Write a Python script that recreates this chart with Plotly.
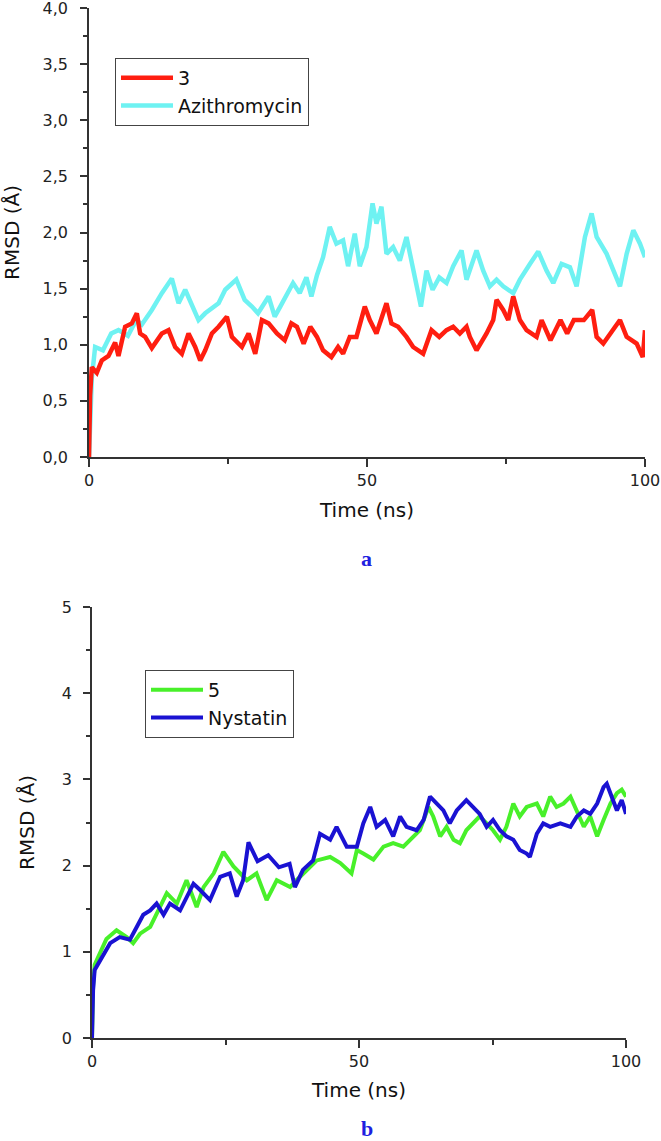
import plotly.graph_objects as go

# ---------- Panel a data ----------
time_3 = [0, 0.2, 0.5, 1.4, 2.3, 3.5, 4.7, 5.3, 6.5, 7.7,
          8.6, 9.2, 10.1, 11.3, 13.1, 14.3, 15.5, 16.7, 17.9, 19.1,
          20.0, 20.9, 22.1, 23.3, 24.8, 25.7, 27.5, 28.7, 29.9, 31.1,
          32.3, 33.8, 35.2, 36.4, 37.4, 38.6, 39.8, 41.0, 42.1, 43.6,
          44.8, 45.7, 46.9, 48.1, 49.6, 50.5, 51.7, 52.6, 53.5, 54.4,
          55.6, 57.1, 58.3, 60.1, 61.6, 63.0, 64.3, 65.5, 66.7, 67.9,
          68.5, 69.7, 71.5, 72.7, 73.3, 74.5, 75.4, 76.3, 77.5, 78.7,
          80.5, 81.4, 83.0, 84.8, 86.0, 87.2, 89.0, 90.5, 91.3, 92.5,
          94.3, 95.5, 96.7, 98.5, 99.6, 100]
rmsd_3 = [0, 0.55, 0.80, 0.75, 0.86, 0.90, 1.02, 0.90, 1.16, 1.19,
          1.28, 1.10, 1.07, 0.97, 1.10, 1.13, 0.98, 0.92, 1.10, 0.98,
          0.86, 0.95, 1.10, 1.16, 1.25, 1.07, 0.98, 1.10, 0.92, 1.22,
          1.19, 1.10, 1.04, 1.19, 1.16, 1.01, 1.16, 1.07, 0.95, 0.89,
          0.98, 0.92, 1.07, 1.07, 1.34, 1.22, 1.10, 1.25, 1.37, 1.19,
          1.16, 1.07, 0.98, 0.92, 1.13, 1.07, 1.13, 1.16, 1.10, 1.16,
          1.07, 0.95, 1.10, 1.22, 1.40, 1.31, 1.22, 1.43, 1.22, 1.13,
          1.07, 1.22, 1.04, 1.22, 1.10, 1.22, 1.22, 1.31, 1.07, 1.01,
          1.13, 1.22, 1.07, 1.01, 0.89, 1.13]

time_azi = [0, 0.2, 0.5, 1.1, 2.5, 4.0, 5.3, 7.0, 8.5, 9.5,
            11.3, 13.1, 14.9, 16.1, 17.3, 19.7, 20.9, 23.3, 24.5, 26.5,
            28.0, 29.3, 30.4, 32.3, 33.4, 34.4, 36.7, 37.9, 39.1, 40.0,
            41.0, 42.1, 43.3, 44.5, 45.7, 46.6, 47.8, 48.7, 49.9, 51.0,
            51.7, 52.6, 53.5, 54.7, 55.9, 57.1, 58.3, 59.7, 60.7, 61.8,
            63.0, 64.3, 65.5, 67.0, 67.9, 69.7, 70.9, 72.1, 73.3, 74.5,
            76.3, 77.5, 79.3, 80.8, 82.3, 83.5, 85.0, 86.5, 87.7, 89.2,
            90.4, 91.3, 93.1, 94.6, 95.5, 96.7, 97.9, 99.1, 100]
rmsd_azi = [0, 0.45, 0.70, 0.98, 0.95, 1.10, 1.13, 1.08, 1.22, 1.18,
            1.31, 1.46, 1.59, 1.37, 1.49, 1.22, 1.28, 1.37, 1.49, 1.58,
            1.40, 1.34, 1.28, 1.43, 1.25, 1.34, 1.55, 1.46, 1.60, 1.43,
            1.62, 1.78, 2.05, 1.90, 1.93, 1.70, 1.99, 1.70, 1.87, 2.26,
            2.08, 2.23, 1.81, 1.87, 1.75, 1.96, 1.66, 1.34, 1.66, 1.49,
            1.60, 1.55, 1.70, 1.84, 1.58, 1.84, 1.66, 1.52, 1.58, 1.52,
            1.46, 1.58, 1.72, 1.83, 1.66, 1.55, 1.72, 1.69, 1.52, 1.96,
            2.17, 1.96, 1.81, 1.63, 1.52, 1.81, 2.02, 1.90, 1.78]

# ---------- Panel b data ----------
time_5 = [0, 0.2, 0.5, 1.5, 2.7, 4.6, 6.5, 7.7, 9.0, 10.9,
          12.7, 14.0, 15.9, 17.7, 19.6, 20.9, 22.8, 24.6, 26.5, 29.0,
          30.8, 32.7, 34.6, 37.1, 38.3, 40.2, 42.1, 44.6, 46.5, 48.6,
          49.6, 50.8, 52.7, 54.6, 56.4, 58.3, 60.2, 61.4, 63.0, 63.9,
          65.2, 66.4, 67.7, 68.9, 70.1, 71.4, 72.6, 73.9, 75.1, 76.4,
          77.6, 78.9, 80.1, 81.4, 83.3, 84.5, 85.8, 87.0, 88.3, 89.6,
          90.8, 92.1, 93.3, 94.6, 95.8, 97.1, 98.3, 99.2, 100]
rmsd_5 = [0, 0.6, 0.85, 1.00, 1.15, 1.25, 1.17, 1.10, 1.21, 1.29,
          1.52, 1.68, 1.56, 1.83, 1.52, 1.75, 1.91, 2.16, 1.99, 1.83,
          1.91, 1.60, 1.83, 1.75, 1.83, 1.95, 2.06, 2.10, 2.03, 1.91,
          2.18, 2.14, 2.07, 2.22, 2.26, 2.22, 2.34, 2.41, 2.68, 2.57,
          2.34, 2.45, 2.30, 2.26, 2.41, 2.49, 2.57, 2.49, 2.41, 2.30,
          2.45, 2.72, 2.57, 2.68, 2.72, 2.57, 2.80, 2.68, 2.72, 2.80,
          2.64, 2.45, 2.57, 2.34, 2.53, 2.72, 2.84, 2.88, 2.80]

time_nys = [0, 0.2, 0.5, 1.5, 3.4, 5.2, 7.1, 8.4, 9.6, 10.9,
            12.1, 13.4, 14.6, 16.5, 17.7, 19.0, 20.2, 22.1, 24.0, 25.8,
            27.1, 28.3, 29.3, 31.0, 33.0, 35.0, 37.0, 38.0, 39.5, 41.4,
            42.7, 44.6, 45.8, 47.7, 49.6, 50.8, 52.1, 53.3, 54.9, 56.4,
            57.7, 58.9, 60.8, 62.1, 63.3, 64.5, 65.8, 67.0, 68.3, 70.1,
            71.4, 72.6, 73.9, 75.1, 76.4, 77.6, 78.9, 80.1, 81.4, 82.0,
            83.3, 84.5, 85.8, 87.7, 89.6, 90.8, 92.1, 93.3, 94.6, 95.8,
            96.4, 97.4, 98.3, 99.2, 100]
rmsd_nys = [0, 0.55, 0.79, 0.90, 1.10, 1.17, 1.14, 1.29, 1.43, 1.48,
            1.56, 1.43, 1.56, 1.48, 1.64, 1.79, 1.72, 1.60, 1.87, 1.91,
            1.64, 1.83, 2.27, 2.05, 2.12, 1.98, 2.02, 1.75, 1.95, 2.06,
            2.37, 2.30, 2.45, 2.22, 2.22, 2.49, 2.68, 2.45, 2.53, 2.34,
            2.57, 2.45, 2.41, 2.53, 2.80, 2.72, 2.64, 2.49, 2.64, 2.76,
            2.68, 2.60, 2.45, 2.53, 2.41, 2.34, 2.30, 2.18, 2.14, 2.10,
            2.37, 2.49, 2.45, 2.49, 2.45, 2.57, 2.64, 2.60, 2.72, 2.91,
            2.95, 2.80, 2.64, 2.76, 2.60]

x_ticks = [0, 50, 100]
x_minor = [25, 75]

W, H = 661, 1141
FONT = "DejaVu Sans"
AX = "#333333"

fig = go.Figure()
fig.add_trace(go.Scatter(x=time_azi, y=rmsd_azi, name="Azithromycin", mode="lines",
                         line=dict(color="#6ef2f2", width=4.5), xaxis="x", yaxis="y",
                         legend="legend", legendrank=2))
fig.add_trace(go.Scatter(x=time_3, y=rmsd_3, name="3", mode="lines",
                         line=dict(color="#ff1e10", width=4.5), xaxis="x", yaxis="y",
                         legend="legend", legendrank=1))
fig.add_trace(go.Scatter(x=time_5, y=rmsd_5, name="5", mode="lines",
                         line=dict(color="#48f02a", width=4), xaxis="x2", yaxis="y2",
                         legend="legend2", legendrank=1))
fig.add_trace(go.Scatter(x=time_nys, y=rmsd_nys, name="Nystatin", mode="lines",
                         line=dict(color="#1a12d2", width=4), xaxis="x2", yaxis="y2",
                         legend="legend2", legendrank=2))

def xax(domain, anchor, standoff):
    return dict(domain=domain, anchor=anchor, range=[0, 100], tickvals=x_ticks,
                automargin=False, ticklabeloverflow="allow",
                ticks="outside", ticklen=8, tickwidth=1.5, tickcolor=AX,
                showline=True, linecolor=AX, linewidth=1.5, showgrid=False, zeroline=False,
                minor=dict(tickvals=x_minor, ticks="outside", ticklen=5, tickwidth=1.5, tickcolor=AX),
                tickfont=dict(size=16, family=FONT, color="#222"),
                title=dict(text="Time (ns)", font=dict(size=20, family=FONT, color="#111"),
                           standoff=standoff))

def yax(domain, anchor, rng, dtick, mdtick, fmt, lstand, standoff):
    return dict(domain=domain, anchor=anchor, range=rng, dtick=dtick, tick0=0, tickformat=fmt,
                automargin=False, ticklabeloverflow="allow",
                ticks="outside", ticklen=7, tickwidth=1.5, tickcolor=AX,
                showline=True, linecolor=AX, linewidth=1.5, showgrid=False, zeroline=False,
                minor=dict(dtick=mdtick, tick0=0, ticks="outside", ticklen=4, tickwidth=1.5, tickcolor=AX),
                tickfont=dict(size=16, family=FONT, color="#222"),
                ticklabelstandoff=lstand,
                title=dict(text="RMSD (Å)", font=dict(size=20, family=FONT, color="#111"),
                           standoff=standoff))

fig.update_layout(
    width=W, height=H, margin=dict(l=0, r=0, t=0, b=0, autoexpand=False),
    paper_bgcolor="white", plot_bgcolor="white",
    separators=", ",
    font=dict(family=FONT, color="#222"),
    xaxis=xax([89 / W, 645 / W], "y", 14),
    yaxis=yax([1 - 457 / H, 1 - 8 / H], "x", [0, 4], 0.5, 0.25, ".1f", 9, 27),
    xaxis2=xax([92 / W, 626 / W], "y2", 13),
    yaxis2=yax([1 - 1038 / H, 1 - 607 / H], "x2", [0, 5], 1, 0.5, "d", 8, 22),
    legend=dict(x=115 / W, y=1 - 58 / H, xanchor="left", yanchor="top",
                bordercolor="#444", borderwidth=1, bgcolor="white", itemwidth=52,
                font=dict(size=19, family=FONT, color="#111"), tracegroupgap=0),
    legend2=dict(x=145 / W, y=1 - 670 / H, xanchor="left", yanchor="top",
                 bordercolor="#444", borderwidth=1, bgcolor="white", itemwidth=52,
                 font=dict(size=19, family=FONT, color="#111"), tracegroupgap=0),
    annotations=[
        dict(text="<b>a</b>", x=366 / W, y=1 - 558 / H, xref="paper", yref="paper",
             showarrow=False, xanchor="center", yanchor="middle",
             font=dict(family="Liberation Serif", size=22, color="#1f1fe0")),
        dict(text="<b>b</b>", x=367 / W, y=1 - 1128 / H, xref="paper", yref="paper",
             showarrow=False, xanchor="center", yanchor="middle",
             font=dict(family="Liberation Serif", size=22, color="#1f1fe0")),
    ],
)

fig.write_html("out.html", config={"displayModeBar": False},
               post_script="document.body.style.margin='0';")
